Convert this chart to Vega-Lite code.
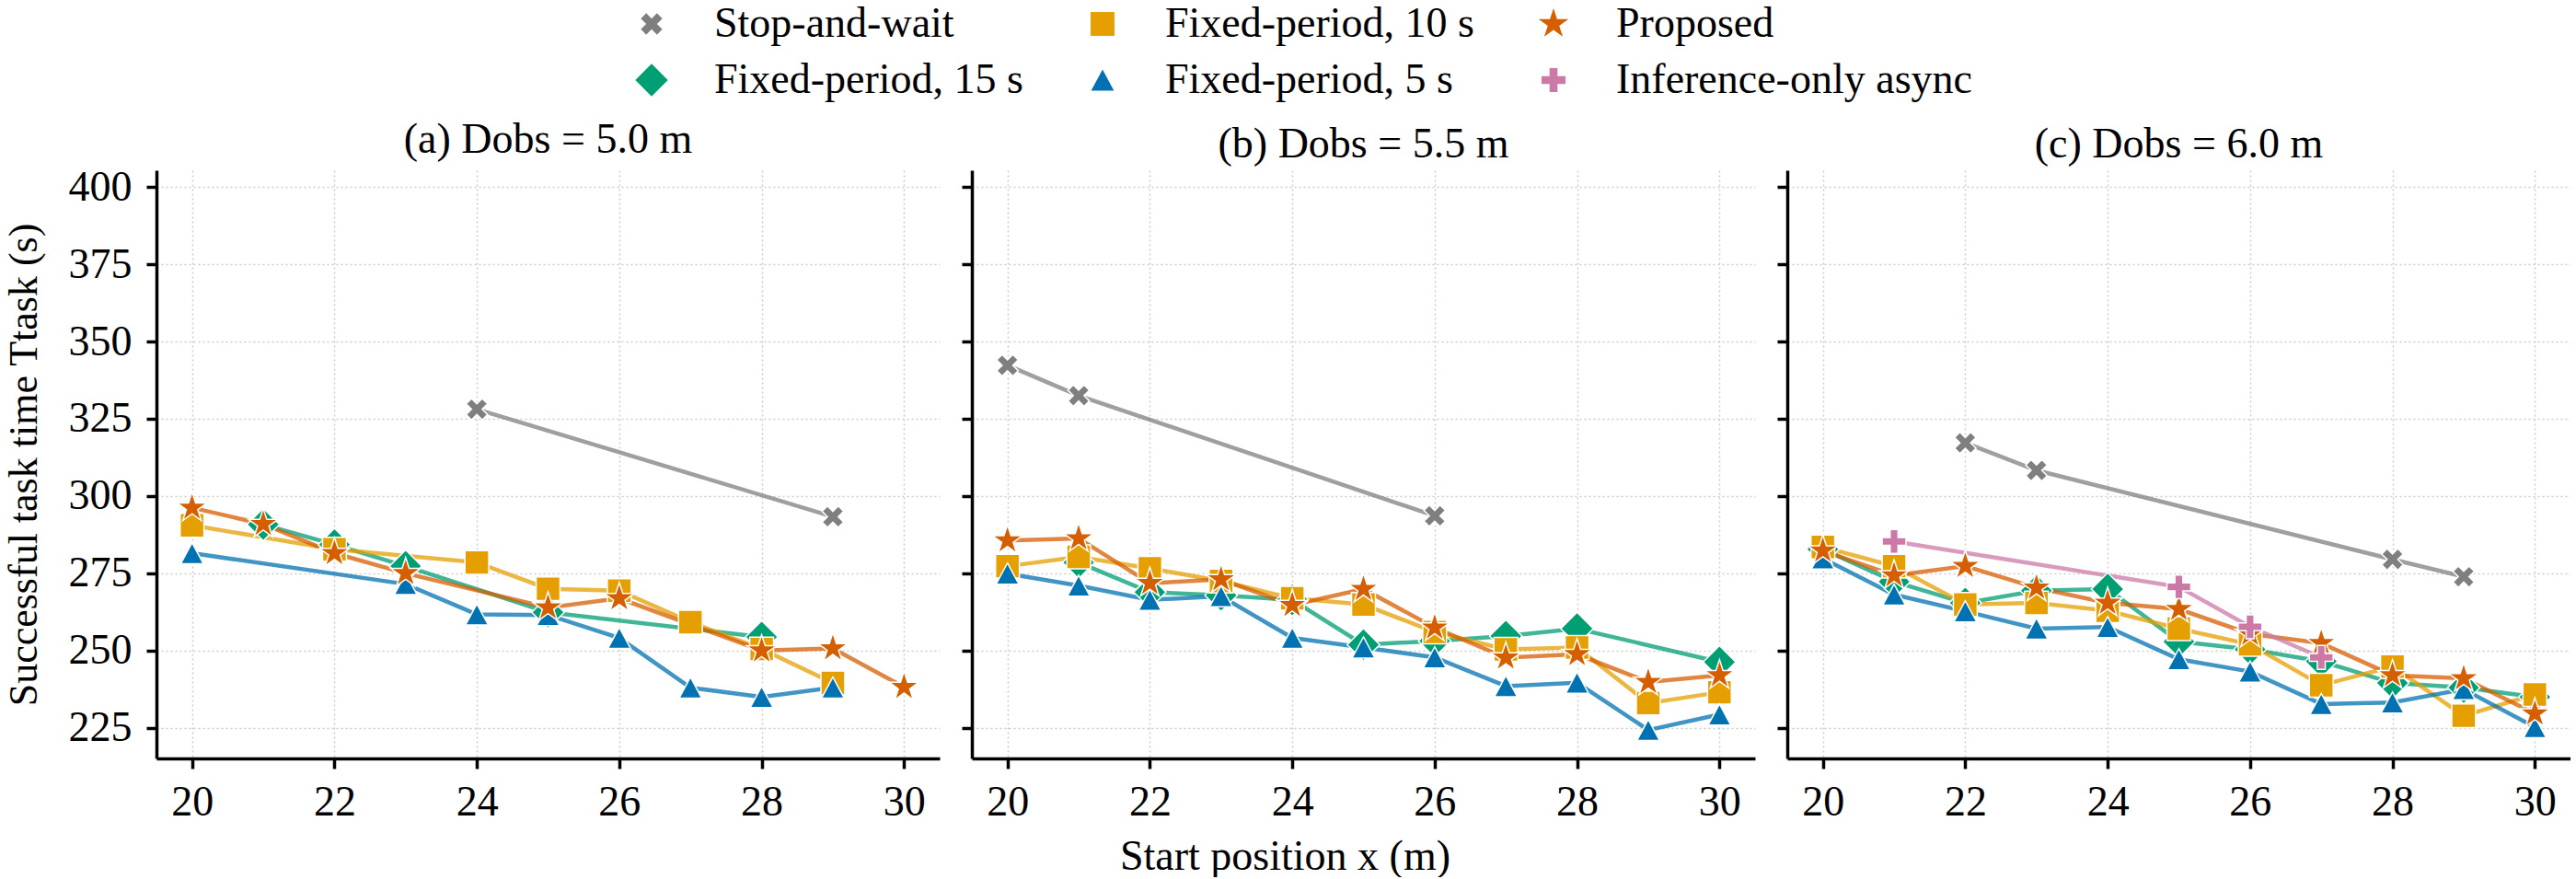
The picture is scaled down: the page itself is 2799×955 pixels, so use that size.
{
"$schema": "https://vega.github.io/schema/vega-lite/v6.json",
"background": "white",
"padding": {"left": 4, "top": 3, "right": 0, "bottom": 0},
"bounds": "flush",
"spacing": 35,
"datasets": {"d": [
{"p":"a","m":"Stop-and-wait","x":24,"t":328.1},{"p":"a","m":"Stop-and-wait","x":29,"t":293.3},
{"p":"a","m":"Fixed-period, 15 s","x":21,"t":290.8},{"p":"a","m":"Fixed-period, 15 s","x":22,"t":284.3},{"p":"a","m":"Fixed-period, 15 s","x":23,"t":277.3},{"p":"a","m":"Fixed-period, 15 s","x":25,"t":262.4},{"p":"a","m":"Fixed-period, 15 s","x":28,"t":254.4},
{"p":"a","m":"Fixed-period, 10 s","x":20,"t":290.5},{"p":"a","m":"Fixed-period, 10 s","x":22,"t":282.8},{"p":"a","m":"Fixed-period, 10 s","x":24,"t":278.5},{"p":"a","m":"Fixed-period, 10 s","x":25,"t":270.0},{"p":"a","m":"Fixed-period, 10 s","x":26,"t":269.4},{"p":"a","m":"Fixed-period, 10 s","x":27,"t":259.2},{"p":"a","m":"Fixed-period, 10 s","x":28,"t":250.5},{"p":"a","m":"Fixed-period, 10 s","x":29,"t":239.5},
{"p":"a","m":"Fixed-period, 5 s","x":20,"t":281.5},{"p":"a","m":"Fixed-period, 5 s","x":23,"t":271.5},{"p":"a","m":"Fixed-period, 5 s","x":24,"t":261.7},{"p":"a","m":"Fixed-period, 5 s","x":25,"t":261.5},{"p":"a","m":"Fixed-period, 5 s","x":26,"t":254.1},{"p":"a","m":"Fixed-period, 5 s","x":27,"t":238.0},{"p":"a","m":"Fixed-period, 5 s","x":28,"t":235.0},{"p":"a","m":"Fixed-period, 5 s","x":29,"t":238.0},
{"p":"a","m":"Proposed","x":20,"t":296.2},{"p":"a","m":"Proposed","x":21,"t":290.9},{"p":"a","m":"Proposed","x":22,"t":281.5},{"p":"a","m":"Proposed","x":23,"t":275.0},{"p":"a","m":"Proposed","x":25,"t":263.9},{"p":"a","m":"Proposed","x":26,"t":266.9},{"p":"a","m":"Proposed","x":28,"t":250.0},{"p":"a","m":"Proposed","x":29,"t":250.7},{"p":"a","m":"Proposed","x":30,"t":238.2},
{"p":"b","m":"Stop-and-wait","x":20,"t":342.3},{"p":"b","m":"Stop-and-wait","x":21,"t":332.5},{"p":"b","m":"Stop-and-wait","x":26,"t":293.6},
{"p":"b","m":"Fixed-period, 15 s","x":21,"t":278.5},{"p":"b","m":"Fixed-period, 15 s","x":22,"t":268.9},{"p":"b","m":"Fixed-period, 15 s","x":23,"t":267.9},{"p":"b","m":"Fixed-period, 15 s","x":24,"t":266.4},{"p":"b","m":"Fixed-period, 15 s","x":25,"t":251.9},{"p":"b","m":"Fixed-period, 15 s","x":26,"t":253.1},{"p":"b","m":"Fixed-period, 15 s","x":27,"t":254.7},{"p":"b","m":"Fixed-period, 15 s","x":28,"t":257.1},{"p":"b","m":"Fixed-period, 15 s","x":30,"t":246.3},
{"p":"b","m":"Fixed-period, 10 s","x":20,"t":277.3},{"p":"b","m":"Fixed-period, 10 s","x":21,"t":280.3},{"p":"b","m":"Fixed-period, 10 s","x":22,"t":276.6},{"p":"b","m":"Fixed-period, 10 s","x":23,"t":272.5},{"p":"b","m":"Fixed-period, 10 s","x":24,"t":266.9},{"p":"b","m":"Fixed-period, 10 s","x":25,"t":264.9},{"p":"b","m":"Fixed-period, 10 s","x":26,"t":256.0},{"p":"b","m":"Fixed-period, 10 s","x":27,"t":250.4},{"p":"b","m":"Fixed-period, 10 s","x":28,"t":251.0},{"p":"b","m":"Fixed-period, 10 s","x":29,"t":233.0},{"p":"b","m":"Fixed-period, 10 s","x":30,"t":236.5},
{"p":"b","m":"Fixed-period, 5 s","x":20,"t":274.9},{"p":"b","m":"Fixed-period, 5 s","x":21,"t":271.0},{"p":"b","m":"Fixed-period, 5 s","x":22,"t":266.4},{"p":"b","m":"Fixed-period, 5 s","x":23,"t":267.6},{"p":"b","m":"Fixed-period, 5 s","x":24,"t":254.1},{"p":"b","m":"Fixed-period, 5 s","x":25,"t":251.0},{"p":"b","m":"Fixed-period, 5 s","x":26,"t":247.8},{"p":"b","m":"Fixed-period, 5 s","x":27,"t":238.5},{"p":"b","m":"Fixed-period, 5 s","x":28,"t":239.6},{"p":"b","m":"Fixed-period, 5 s","x":29,"t":224.3},{"p":"b","m":"Fixed-period, 5 s","x":30,"t":229.3},
{"p":"b","m":"Proposed","x":20,"t":285.6},{"p":"b","m":"Proposed","x":21,"t":286.3},{"p":"b","m":"Proposed","x":22,"t":271.8},{"p":"b","m":"Proposed","x":23,"t":273.0},{"p":"b","m":"Proposed","x":24,"t":264.7},{"p":"b","m":"Proposed","x":25,"t":269.9},{"p":"b","m":"Proposed","x":26,"t":257.4},{"p":"b","m":"Proposed","x":27,"t":247.7},{"p":"b","m":"Proposed","x":28,"t":248.8},{"p":"b","m":"Proposed","x":29,"t":239.8},{"p":"b","m":"Proposed","x":30,"t":242.0},
{"p":"c","m":"Stop-and-wait","x":22,"t":317.2},{"p":"c","m":"Stop-and-wait","x":23,"t":308.3},{"p":"c","m":"Stop-and-wait","x":28,"t":279.5},{"p":"c","m":"Stop-and-wait","x":29,"t":273.9},
{"p":"c","m":"Fixed-period, 15 s","x":20,"t":282.8},{"p":"c","m":"Fixed-period, 15 s","x":21,"t":272.3},{"p":"c","m":"Fixed-period, 15 s","x":22,"t":265.4},{"p":"c","m":"Fixed-period, 15 s","x":23,"t":269.4},{"p":"c","m":"Fixed-period, 15 s","x":24,"t":269.9},{"p":"c","m":"Fixed-period, 15 s","x":25,"t":252.9},{"p":"c","m":"Fixed-period, 15 s","x":26,"t":250.4},{"p":"c","m":"Fixed-period, 15 s","x":27,"t":246.5},{"p":"c","m":"Fixed-period, 15 s","x":28,"t":239.5},{"p":"c","m":"Fixed-period, 15 s","x":29,"t":238.0},{"p":"c","m":"Fixed-period, 15 s","x":30,"t":235.0},
{"p":"c","m":"Fixed-period, 10 s","x":20,"t":283.5},{"p":"c","m":"Fixed-period, 10 s","x":21,"t":277.3},{"p":"c","m":"Fixed-period, 10 s","x":22,"t":264.9},{"p":"c","m":"Fixed-period, 10 s","x":23,"t":265.4},{"p":"c","m":"Fixed-period, 10 s","x":24,"t":262.9},{"p":"c","m":"Fixed-period, 10 s","x":25,"t":257.1},{"p":"c","m":"Fixed-period, 10 s","x":26,"t":252.0},{"p":"c","m":"Fixed-period, 10 s","x":27,"t":238.8},{"p":"c","m":"Fixed-period, 10 s","x":28,"t":244.8},{"p":"c","m":"Fixed-period, 10 s","x":29,"t":228.9},{"p":"c","m":"Fixed-period, 10 s","x":30,"t":235.8},
{"p":"c","m":"Fixed-period, 5 s","x":20,"t":279.8},{"p":"c","m":"Fixed-period, 5 s","x":21,"t":268.1},{"p":"c","m":"Fixed-period, 5 s","x":22,"t":262.7},{"p":"c","m":"Fixed-period, 5 s","x":23,"t":257.1},{"p":"c","m":"Fixed-period, 5 s","x":24,"t":257.6},{"p":"c","m":"Fixed-period, 5 s","x":25,"t":247.2},{"p":"c","m":"Fixed-period, 5 s","x":26,"t":243.2},{"p":"c","m":"Fixed-period, 5 s","x":27,"t":232.7},{"p":"c","m":"Fixed-period, 5 s","x":28,"t":233.2},{"p":"c","m":"Fixed-period, 5 s","x":29,"t":237.5},{"p":"c","m":"Fixed-period, 5 s","x":30,"t":225.2},
{"p":"c","m":"Proposed","x":20,"t":282.3},{"p":"c","m":"Proposed","x":21,"t":274.3},{"p":"c","m":"Proposed","x":22,"t":277.3},{"p":"c","m":"Proposed","x":23,"t":270.3},{"p":"c","m":"Proposed","x":24,"t":265.4},{"p":"c","m":"Proposed","x":25,"t":263.4},{"p":"c","m":"Proposed","x":26,"t":255.4},{"p":"c","m":"Proposed","x":27,"t":252.4},{"p":"c","m":"Proposed","x":28,"t":242.0},{"p":"c","m":"Proposed","x":29,"t":241.0},{"p":"c","m":"Proposed","x":30,"t":229.6},
{"p":"c","m":"Inference-only async","x":21,"t":285.3},{"p":"c","m":"Inference-only async","x":25,"t":270.6},{"p":"c","m":"Inference-only async","x":26,"t":257.7},{"p":"c","m":"Inference-only async","x":27,"t":247.8}
]},
"data": {"name": "d"},
"resolve": {"scale": {"color": "shared", "shape": "shared", "stroke": "shared"}, "legend": {"color": "shared", "shape": "shared"}},
"config": {
  "font": "Liberation Serif",
  "view": {"stroke": null},
  "axis": {"domainColor": "black", "domainWidth": 3.5, "tickColor": "black", "tickWidth": 3.5, "tickSize": 11, "labelFont": "Liberation Serif", "labelFontSize": 46, "labelColor": "black", "titleFont": "Liberation Serif", "titleFontSize": 46, "titleFontWeight": "normal", "titleColor": "black", "gridColor": "#cccccc", "gridDash": [2, 3], "gridWidth": 1.5},
  "axisX": {"labelPadding": 14, "titlePadding": 14},
  "axisY": {"labelPadding": 16, "titlePadding": 26, "titleFontSize": 44},
  "title": {"font": "Liberation Serif", "fontSize": 46, "fontWeight": "normal", "color": "black", "offset": 0}
},
"hconcat": [
{
  "width": 851, "height": 639,
  "title": {"text": "(a) Dobs = 5.0 m"},
  "transform": [{"filter": "datum.p == 'a'"}],
  "encoding": {
    "x": {"field": "x", "type": "quantitative", "scale": {"domain": [19.5, 30.5], "nice": false, "zero": false}, "axis": {"values": [20, 22, 24, 26, 28, 30], "title": null}},
    "y": {"field": "t", "type": "quantitative", "scale": {"domain": [215.1, 405.4], "nice": false, "zero": false}, "axis": {"values": [225, 250, 275, 300, 325, 350, 375, 400], "title": "Successful task time Ttask (s)"}}
  },
  "layer": [
    {"mark": {"type": "line", "strokeWidth": 4.5, "opacity": 0.75},
     "encoding": {"stroke": {"field": "m", "type": "nominal", "legend": null, "scale": {"domain": ["Stop-and-wait", "Fixed-period, 10 s", "Proposed", "Fixed-period, 15 s", "Fixed-period, 5 s", "Inference-only async"], "range": ["#7f7f7f", "#E69F00", "#D55E00", "#009E73", "#0072B2", "#CC79A7"]}}}},
    {"mark": {"type": "point", "filled": true, "opacity": 1, "stroke": "white", "strokeWidth": 1.5, "size": 1250},
     "encoding": {
       "color": {"field": "m", "type": "nominal", "scale": {"domain": ["Stop-and-wait", "Fixed-period, 15 s", "Fixed-period, 10 s", "Fixed-period, 5 s", "Proposed", "Inference-only async"], "range": ["#7f7f7f", "#009E73", "#E69F00", "#0072B2", "#D55E00", "#CC79A7"]},
         "legend": {"orient": "none", "legendX": 515, "legendY": -182, "columns": 3, "title": null, "labelFont": "Liberation Serif", "labelFontSize": 46, "labelColor": "black", "labelLimit": 800, "labelOffset": 45, "columnPadding": 62, "rowPadding": 15, "symbolOpacity": 1, "symbolStrokeWidth": 0, "symbolSize": 1250}},
       "shape": {"field": "m", "type": "nominal", "scale": {"domain": ["Stop-and-wait", "Fixed-period, 15 s", "Fixed-period, 10 s", "Fixed-period, 5 s", "Proposed", "Inference-only async"], "range": ["M0.33,-0.66L0.66,-0.33L0.33,0L0.66,0.33L0.33,0.66L0,0.33L-0.33,0.66L-0.66,0.33L-0.33,0L-0.66,-0.33L-0.33,-0.66L0,-0.33Z", "M0,-1L1,0L0,1L-1,0Z", "M-0.733,-0.733L0.733,-0.733L0.733,0.733L-0.733,0.733Z", "M0,-0.65L0.7,0.65L-0.7,0.65Z", "M0,-0.967L0.2171,-0.2988L0.9197,-0.2988L0.3513,0.1141L0.5684,0.7823L0,0.3694L-0.5684,0.7823L-0.3513,0.1141L-0.9197,-0.2988L-0.2171,-0.2988Z", "M-0.244,-0.733L0.244,-0.733L0.244,-0.244L0.733,-0.244L0.733,0.244L0.244,0.244L0.244,0.733L-0.244,0.733L-0.244,0.244L-0.733,0.244L-0.733,-0.244L-0.244,-0.244Z"]}}
     }}
  ]
},
{
  "width": 851, "height": 639,
  "title": {"text": "(b) Dobs = 5.5 m"},
  "transform": [{"filter": "datum.p == 'b'"}],
  "encoding": {
    "x": {"field": "x", "type": "quantitative", "scale": {"domain": [19.5, 30.5], "nice": false, "zero": false}, "axis": {"values": [20, 22, 24, 26, 28, 30], "title": "Start position x (m)", "titleX": 340}},
    "y": {"field": "t", "type": "quantitative", "scale": {"domain": [215.1, 405.4], "nice": false, "zero": false}, "axis": {"values": [225, 250, 275, 300, 325, 350, 375, 400], "labels": false, "title": null}}
  },
  "layer": [
    {"mark": {"type": "line", "strokeWidth": 4.5, "opacity": 0.75},
     "encoding": {"stroke": {"field": "m", "type": "nominal", "legend": null, "scale": {"domain": ["Stop-and-wait", "Fixed-period, 10 s", "Proposed", "Fixed-period, 15 s", "Fixed-period, 5 s", "Inference-only async"], "range": ["#7f7f7f", "#E69F00", "#D55E00", "#009E73", "#0072B2", "#CC79A7"]}}}},
    {"mark": {"type": "point", "filled": true, "opacity": 1, "stroke": "white", "strokeWidth": 1.5, "size": 1250},
     "encoding": {
       "color": {"field": "m", "type": "nominal", "scale": {"domain": ["Stop-and-wait", "Fixed-period, 15 s", "Fixed-period, 10 s", "Fixed-period, 5 s", "Proposed", "Inference-only async"], "range": ["#7f7f7f", "#009E73", "#E69F00", "#0072B2", "#D55E00", "#CC79A7"]}},
       "shape": {"field": "m", "type": "nominal", "scale": {"domain": ["Stop-and-wait", "Fixed-period, 15 s", "Fixed-period, 10 s", "Fixed-period, 5 s", "Proposed", "Inference-only async"], "range": ["M0.33,-0.66L0.66,-0.33L0.33,0L0.66,0.33L0.33,0.66L0,0.33L-0.33,0.66L-0.66,0.33L-0.33,0L-0.66,-0.33L-0.33,-0.66L0,-0.33Z", "M0,-1L1,0L0,1L-1,0Z", "M-0.733,-0.733L0.733,-0.733L0.733,0.733L-0.733,0.733Z", "M0,-0.65L0.7,0.65L-0.7,0.65Z", "M0,-0.967L0.2171,-0.2988L0.9197,-0.2988L0.3513,0.1141L0.5684,0.7823L0,0.3694L-0.5684,0.7823L-0.3513,0.1141L-0.9197,-0.2988L-0.2171,-0.2988Z", "M-0.244,-0.733L0.244,-0.733L0.244,-0.244L0.733,-0.244L0.733,0.244L0.244,0.244L0.244,0.733L-0.244,0.733L-0.244,0.244L-0.733,0.244L-0.733,-0.244L-0.244,-0.244Z"]}}
     }}
  ]
},
{
  "width": 851, "height": 639,
  "title": {"text": "(c) Dobs = 6.0 m"},
  "transform": [{"filter": "datum.p == 'c'"}],
  "encoding": {
    "x": {"field": "x", "type": "quantitative", "scale": {"domain": [19.5, 30.5], "nice": false, "zero": false}, "axis": {"values": [20, 22, 24, 26, 28, 30], "title": null}},
    "y": {"field": "t", "type": "quantitative", "scale": {"domain": [215.1, 405.4], "nice": false, "zero": false}, "axis": {"values": [225, 250, 275, 300, 325, 350, 375, 400], "labels": false, "title": null}}
  },
  "layer": [
    {"mark": {"type": "line", "strokeWidth": 4.5, "opacity": 0.75},
     "encoding": {"stroke": {"field": "m", "type": "nominal", "legend": null, "scale": {"domain": ["Stop-and-wait", "Fixed-period, 10 s", "Proposed", "Fixed-period, 15 s", "Fixed-period, 5 s", "Inference-only async"], "range": ["#7f7f7f", "#E69F00", "#D55E00", "#009E73", "#0072B2", "#CC79A7"]}}}},
    {"mark": {"type": "point", "filled": true, "opacity": 1, "stroke": "white", "strokeWidth": 1.5, "size": 1250},
     "encoding": {
       "color": {"field": "m", "type": "nominal", "scale": {"domain": ["Stop-and-wait", "Fixed-period, 15 s", "Fixed-period, 10 s", "Fixed-period, 5 s", "Proposed", "Inference-only async"], "range": ["#7f7f7f", "#009E73", "#E69F00", "#0072B2", "#D55E00", "#CC79A7"]}},
       "shape": {"field": "m", "type": "nominal", "scale": {"domain": ["Stop-and-wait", "Fixed-period, 15 s", "Fixed-period, 10 s", "Fixed-period, 5 s", "Proposed", "Inference-only async"], "range": ["M0.33,-0.66L0.66,-0.33L0.33,0L0.66,0.33L0.33,0.66L0,0.33L-0.33,0.66L-0.66,0.33L-0.33,0L-0.66,-0.33L-0.33,-0.66L0,-0.33Z", "M0,-1L1,0L0,1L-1,0Z", "M-0.733,-0.733L0.733,-0.733L0.733,0.733L-0.733,0.733Z", "M0,-0.65L0.7,0.65L-0.7,0.65Z", "M0,-0.967L0.2171,-0.2988L0.9197,-0.2988L0.3513,0.1141L0.5684,0.7823L0,0.3694L-0.5684,0.7823L-0.3513,0.1141L-0.9197,-0.2988L-0.2171,-0.2988Z", "M-0.244,-0.733L0.244,-0.733L0.244,-0.244L0.733,-0.244L0.733,0.244L0.244,0.244L0.244,0.733L-0.244,0.733L-0.244,0.244L-0.733,0.244L-0.733,-0.244L-0.244,-0.244Z"]}}
     }}
  ]
}
]
}
